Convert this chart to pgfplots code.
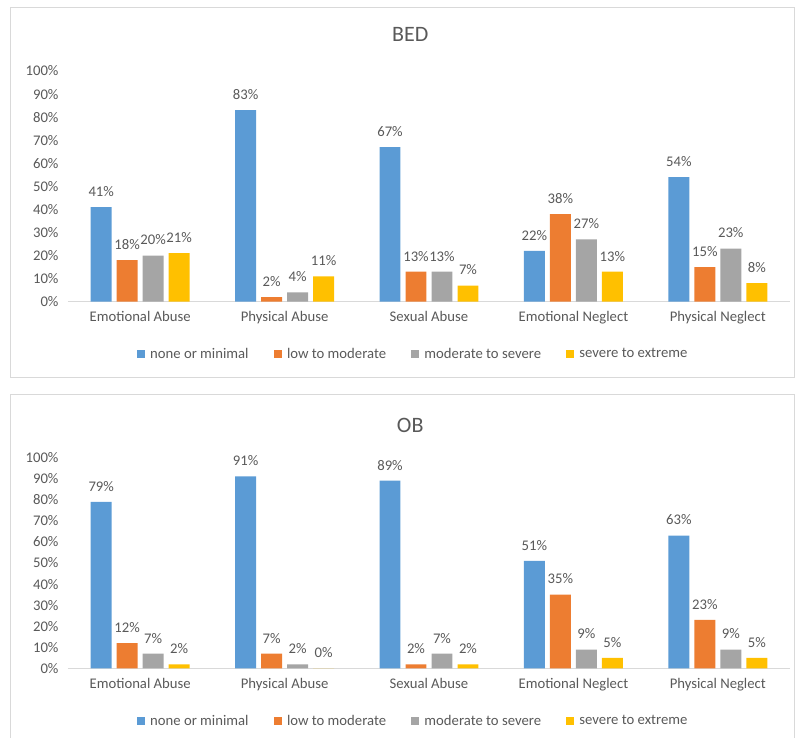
\documentclass[border=0pt]{standalone}
\usepackage{pgfplots}
\pgfplotsset{compat=1.18}
\usepackage{fontspec}
\setmainfont{Carlito}
\definecolor{cBlue}{HTML}{5B9BD5}
\definecolor{cOrange}{HTML}{ED7D31}
\definecolor{cGray}{HTML}{A5A5A5}
\definecolor{cYellow}{HTML}{FFC000}
\definecolor{txt}{HTML}{595959}
\definecolor{gridc}{HTML}{D9D9D9}

\newcommand{\gap}{\hspace*{20pt}\mbox{}}

\pgfplotsset{
 panel/.style={
  scale only axis, width=722pt, height=230.7pt,
  xmin=-0.5, xmax=4.5, ymin=0, ymax=100,
  xtick={0,...,4},
  xticklabels={Emotional Abuse, Physical Abuse, Sexual Abuse, Emotional Neglect, Physical Neglect},
  ytick={0,10,...,100},
  yticklabel={\pgfmathprintnumber{\tick}\%},
  axis x line*=bottom, axis y line*=left,
  x axis line style={draw=gridc, line width=1.3pt, -},
  y axis line style={draw=none},
  major tick length=0pt,
  tick label style={font=\fontsize{14.7}{16}\selectfont, text=txt},
  xticklabel style={yshift=-6pt},
  yticklabel style={xshift=-6pt},
  /pgf/number format/assume math mode=true,
  ybar, bar width=0.145,
  nodes near coords={\pgfmathprintnumber{\pgfplotspointmeta}\%},
  nodes near coords style={font=\fontsize{14.7}{16}\selectfont, text=txt, yshift=7pt},
  legend columns=4,
  legend style={draw=none, fill=none, anchor=center, column sep=3pt,
    font=\fontsize{14.7}{16}\selectfont, text=txt},
  legend image code/.code={\fill[#1] (0pt,-4.2pt) rectangle (8.4pt,4.2pt);},
  title style={font=\fontsize{22}{26}\selectfont, text=txt, anchor=center},
 },
 s1/.style={fill=cBlue, draw=none, bar shift=-0.27},
 s2/.style={fill=cOrange, draw=none, bar shift=-0.09},
 s3/.style={fill=cGray, draw=none, bar shift=0.09},
 s4/.style={fill=cYellow, draw=none, bar shift=0.27},
}

\begin{document}
\begin{tikzpicture}
\useasboundingbox (0pt,0pt) rectangle (796pt,738pt);
\draw[gridc, line width=1pt] (10pt,360pt) rectangle (794pt,730pt);
\draw[gridc, line width=1pt] (10pt,-5pt) rectangle (794pt,343pt);

\begin{axis}[panel, at={(68pt,436.3pt)}, anchor=south west, title={BED},
  title style={at={(axis description cs:0.474,1.132)}},
  legend style={at={(axis description cs:0.478,-0.227)}}]
\addplot[s1] coordinates {(0,41) (1,83) (2,67) (3,22) (4,54)};
\addplot[s2] coordinates {(0,18) (1,2) (2,13) (3,38) (4,15)};
\addplot[s3] coordinates {(0,20) (1,4) (2,13) (3,27) (4,23)};
\addplot[s4] coordinates {(0,21) (1,11) (2,7) (3,13) (4,8)};
\legend{none or minimal\gap, low to moderate\gap, moderate to severe\gap, severe to extreme}
\end{axis}

\begin{axis}[panel, at={(68pt,69.5pt)}, anchor=south west, height=211pt, title={OB},
  title style={at={(axis description cs:0.474,1.125)}},
  legend style={at={(axis description cs:0.478,-0.249)}}]
\addplot[s1] coordinates {(0,79) (1,91) (2,89) (3,51) (4,63)};
\addplot[s2] coordinates {(0,12) (1,7) (2,2) (3,35) (4,23)};
\addplot[s3] coordinates {(0,7) (1,2) (2,7) (3,9) (4,9)};
\addplot[s4] coordinates {(0,2) (1,0) (2,2) (3,5) (4,5)};
\legend{none or minimal\gap, low to moderate\gap, moderate to severe\gap, severe to extreme}
\end{axis}
\end{tikzpicture}
\end{document}
